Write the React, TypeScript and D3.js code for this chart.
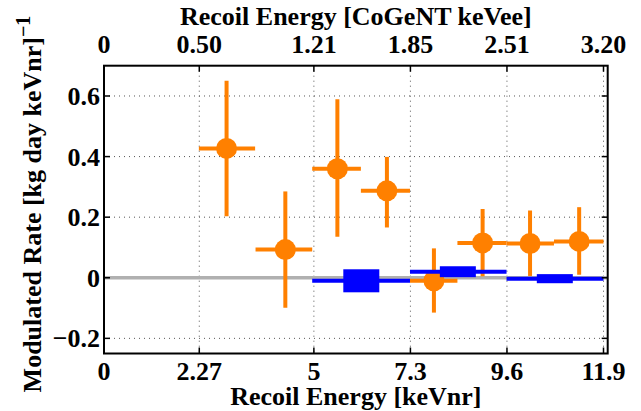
import React from "react";
import * as d3 from "d3";

// ---- data ----
const xTickValues = [0, 2.27, 5, 7.3, 9.6, 11.9];
const xTickLabels = ["0", "2.27", "5", "7.3", "9.6", "11.9"];
const topTickLabels = ["0", "0.50", "1.21", "1.85", "2.51", "3.20"];
const yTickValues = [-0.2, 0, 0.2, 0.4, 0.6];
const yTickLabels = ["\u22120.2", "0", "0.2", "0.4", "0.6"];

const orangeBinLo = [2.26, 3.61, 4.96, 6.12, 7.29, 8.42, 9.59, 10.72];
const orangeBinHi = [3.6, 4.96, 6.12, 7.29, 8.42, 9.59, 10.72, 11.9];
const orangeX = [2.92, 4.32, 5.56, 6.74, 7.86, 9.02, 10.15, 11.32];
const orangeY = [0.427, 0.093, 0.36, 0.287, -0.01, 0.115, 0.113, 0.12];
const orangeErrHi = [0.65, 0.285, 0.589, 0.399, 0.097, 0.227, 0.222, 0.233];
const orangeErrLo = [0.203, -0.099, 0.135, 0.166, -0.115, 0.005, 0.006, 0.01];

const blueBinLo = [4.96, 7.29, 9.59];
const blueBinHi = [7.29, 9.59, 11.9];
const blueX = [6.13, 8.43, 10.74];
const blueY = [-0.01, 0.02, -0.003];
const blueErr = [0.038, 0.018, 0.015];

const xDomain = [0, 12];
const yDomain = [-0.25, 0.7];

// ---- layout ----
const W = 641;
const H = 411;
const L = 104;
const R = 607.7;
const T = 65.7;
const B = 353.5;
const FONT = "'Liberation Serif', 'Times New Roman', serif";
const ORANGE = "#ff8000";
const BLUE = "#0000ff";

export default function App() {
  const x = d3.scaleLinear().domain(xDomain).range([L, R]);
  const y = d3.scaleLinear().domain(yDomain).range([B, T]);
  const tickLen = 6;
  const boxHalfW = 18;

  return (
    <svg
      width={W}
      height={H}
      style={{ position: "fixed", left: 0, top: 0, background: "#fff" }}
      fontFamily={FONT}
      fontWeight="bold"
    >
      <rect x={0} y={0} width={W} height={H} fill="#fff" />
      {/* grid */}
      <g stroke="#555" strokeWidth={1} strokeDasharray="1,4">
        {xTickValues
          .filter((v) => v > xDomain[0])
          .map((v, i) => (
            <line key={"gx" + i} x1={x(v)} x2={x(v)} y1={T} y2={B} />
          ))}
        {yTickValues.map((v, i) => (
          <line key={"gy" + i} x1={L} x2={R} y1={y(v)} y2={y(v)} />
        ))}
      </g>
      {/* zero line */}
      <line x1={x(xDomain[0])} x2={x(xDomain[1])} y1={y(0)} y2={y(0)} stroke="#b0b0b0" strokeWidth={3.5} />
      {/* orange series */}
      <g stroke={ORANGE} strokeWidth={4} fill={ORANGE}>
        {orangeX.map((v, i) => (
          <g key={"o" + i}>
            <line x1={x(orangeBinLo[i])} x2={x(orangeBinHi[i])} y1={y(orangeY[i])} y2={y(orangeY[i])} />
            <line x1={x(v)} x2={x(v)} y1={y(orangeErrLo[i])} y2={y(orangeErrHi[i])} />
            <circle cx={x(v)} cy={y(orangeY[i])} r={10.5} stroke="none" />
          </g>
        ))}
      </g>
      {/* blue series */}
      <g>
        {blueX.map((v, i) => (
          <g key={"b" + i}>
            <line
              x1={x(blueBinLo[i])}
              x2={x(blueBinHi[i])}
              y1={y(blueY[i])}
              y2={y(blueY[i])}
              stroke={BLUE}
              strokeWidth={4}
            />
            <rect
              x={x(v) - boxHalfW}
              y={y(blueY[i] + blueErr[i])}
              width={boxHalfW * 2}
              height={y(blueY[i] - blueErr[i]) - y(blueY[i] + blueErr[i])}
              fill={BLUE}
            />
          </g>
        ))}
      </g>
      {/* ticks */}
      <g stroke="#000" strokeWidth={1.5}>
        {xTickValues.map((v, i) => (
          <g key={"tx" + i}>
            <line x1={x(v)} x2={x(v)} y1={B} y2={B - tickLen} />
            <line x1={x(v)} x2={x(v)} y1={T} y2={T + tickLen} />
          </g>
        ))}
        {yTickValues.map((v, i) => (
          <g key={"ty" + i}>
            <line x1={L} x2={L + tickLen} y1={y(v)} y2={y(v)} />
            <line x1={R} x2={R - tickLen} y1={y(v)} y2={y(v)} />
          </g>
        ))}
      </g>
      {/* frame */}
      <rect x={L} y={T} width={R - L} height={B - T} fill="none" stroke="#000" strokeWidth={2} />
      {/* tick labels */}
      <g fontSize={26} fill="#000">
        {xTickValues.map((v, i) => (
          <text key={"lx" + i} x={x(v)} y={380} textAnchor="middle">
            {xTickLabels[i]}
          </text>
        ))}
        {xTickValues.map((v, i) => (
          <text key={"lt" + i} x={x(v)} y={53} textAnchor="middle">
            {topTickLabels[i]}
          </text>
        ))}
        {yTickValues.map((v, i) => (
          <text key={"ly" + i} x={100} y={y(v) + 9} textAnchor="end">
            {yTickLabels[i]}
          </text>
        ))}
      </g>
      {/* axis labels */}
      <text x={(L + R) / 2} y={405} textAnchor="middle" fontSize={26}>
        Recoil Energy [keVnr]
      </text>
      <text x={(L + R) / 2} y={25} textAnchor="middle" fontSize={26}>
        Recoil Energy [CoGeNT keVee]
      </text>
      <text transform="translate(41,204) rotate(-90)" textAnchor="middle" fontSize={26}>
        Modulated Rate [kg day keVnr]
        <tspan fontSize={20} dy={-11}>
          {"\u22121"}
        </tspan>
      </text>
    </svg>
  );
}
